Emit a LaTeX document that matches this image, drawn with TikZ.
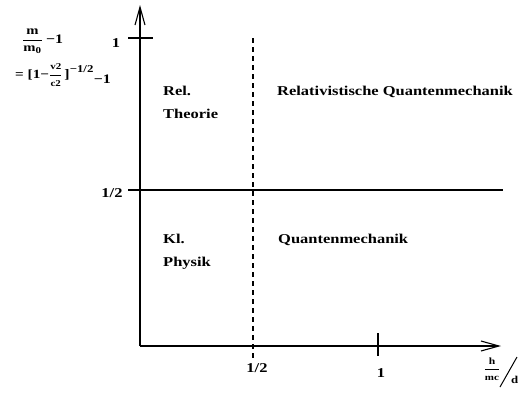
\documentclass[tikz,border=0pt]{standalone}
\usepackage{amsmath}
\usepackage{fontspec}
\setmainfont{Liberation Serif}[FakeStretch=1.22]
\usetikzlibrary{arrows.meta}
\newcommand\fs[2]{\text{\fontsize{#1}{#1}\selectfont #2}}
\begin{document}
\begin{tikzpicture}[x=1pt,y=-1pt,
  lbl/.style={font=\bfseries\fontsize{13.5}{16}\selectfont, inner sep=0pt},
  frm/.style={font=\bfseries\fontsize{12}{14}\selectfont, inner sep=0pt},
  axis/.style={line width=1.2pt},
  ax/.style={-{Straight Barb[length=18pt,width=10pt,line width=1.1pt]}},
  divider/.style={line width=1.1pt},
  dashdiv/.style={line width=1.1pt, dash pattern=on 5pt off 4pt}]
\useasboundingbox (0,0) rectangle (525,394);
% axes
\coordinate (O) at (140,346);
\coordinate (ytip) at (140,5);
\coordinate (xtip) at (501,346);
\draw[axis,ax] (O) -- (ytip);
\draw[axis,ax] (O) -- (xtip);
% ticks
\coordinate (yt1a) at (128,38);
\coordinate (yt1b) at (153,38);
\draw[divider] (yt1a) -- (yt1b);
\coordinate (xt1a) at (378,333);
\coordinate (xt1b) at (378,356);
\draw[divider] (xt1a) -- (xt1b);
% dividers
\coordinate (hl) at (128,190);
\coordinate (hr) at (503,190);
\draw[divider] (hl) -- (hr);
\coordinate (vt) at (253,38);
\coordinate (vb) at (253,360);
\draw[dashdiv] (vt) -- (vb);
% axis labels
\node[lbl,anchor=base] (y1) at (116,47) {1};
\node[lbl,anchor=base] (yhalf) at (112,197) {1/2};
\node[lbl,anchor=base] (xhalf) at (257,372) {1/2};
\node[lbl,anchor=base] (x1) at (381,377) {1};
% region labels
\node[lbl,anchor=base west] (rel) at (163,95) {Rel.};
\node[lbl,anchor=base west] (theo) at (163,118) {Theorie};
\node[lbl,anchor=base west] (rqm) at (277,95) {Relativistische Quantenmechanik};
\node[lbl,anchor=base west] (kl) at (163,243) {Kl.};
\node[lbl,anchor=base west] (phys) at (163,266) {Physik};
\node[lbl,anchor=base west] (qm) at (278,243) {Quantenmechanik};
% x-axis quantity
\node[frm,anchor=center] (hmc) at (492,369) {$\dfrac{\fs{9.5}{h}}{\fs{9}{mc}}$};
\coordinate (sl1) at (500,387);
\coordinate (sl2) at (517,357);
\draw[line width=1pt] (sl1) -- (sl2);
\node[frm,anchor=base west] (dd) at (511,383) {\fontsize{10.5}{12}\selectfont d};
% y-axis quantity
\node[frm,anchor=base west] (f1) at (22,43) {$\dfrac{\fs{12}{m}}{\fs{12}{m}_{\fs{9}{0}}}\;\fs{13}{−1}$};
\node[frm,anchor=base west] (f2) at (15,78) {$\fs{12.5}{= [1−}\dfrac{\fs{9}{v2}}{\fs{9}{c2}}\,\fs{13}{]}^{\fs{10.5}{−1/2}}\raisebox{-5pt}{\fs{13}{−1}}$};
\end{tikzpicture}
\end{document}
